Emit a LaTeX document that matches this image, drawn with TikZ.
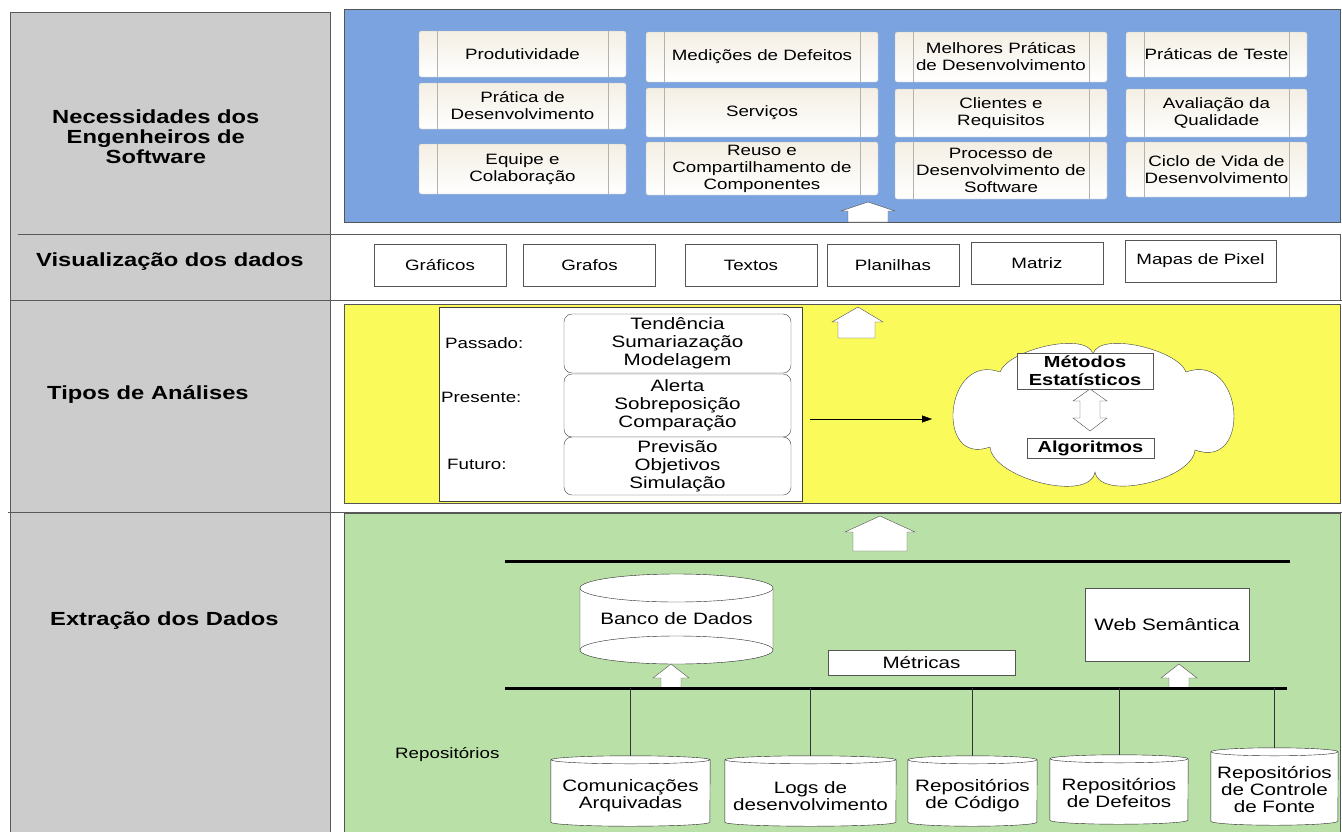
\documentclass[tikz,border=0pt]{standalone}
\usepackage{fontspec}
\setmainfont{Liberation Sans}[FakeStretch=1.25]
\usepackage{tikz}
\usetikzlibrary{positioning,calc,arrows.meta}
\tikzset{>={Triangle[length=10pt,width=7pt]}}

\definecolor{layergray}{HTML}{CCCCCC}
\definecolor{needblue}{HTML}{7BA3DF}
\definecolor{analysisyellow}{HTML}{FAFA5A}
\definecolor{extractgreen}{HTML}{B9E0A6}
\definecolor{boxcream}{HTML}{F4EFE4}
\definecolor{edgegray}{HTML}{555555}

\tikzset{
  layerlabel/.style={anchor=west,inner sep=0pt,align=center,font=\fontsize{19}{20}\selectfont\bfseries},
  panel/.style={draw=edgegray},
  needbox/.style={draw=gray!55,top color=boxcream,bottom color=white,rounded corners=2pt,
    inner sep=0pt,align=center,font=\fontsize{15}{17}\selectfont,
    path picture={
      \draw[gray!60] ([xshift=18pt]path picture bounding box.north west) -- ([xshift=18pt]path picture bounding box.south west);
      \draw[gray!60] ([xshift=-18pt]path picture bounding box.north east) -- ([xshift=-18pt]path picture bounding box.south east);
    }},
  viewbox/.style={draw=edgegray,fill=white,inner sep=0pt,minimum width=132pt,minimum height=42pt,font=\fontsize{15}{17}\selectfont},
  periodbox/.style={draw=black!75,fill=white,rounded corners=8pt,inner sep=0pt,minimum width=227pt,
    align=center,font=\fontsize{16.5}{18}\selectfont},
  periodlabel/.style={anchor=west,inner sep=0pt,font=\fontsize{15}{17}\selectfont},
  methodbox/.style={draw=edgegray,fill=white,inner sep=0pt,align=center,font=\fontsize{16}{18}\selectfont\bfseries},
  blockarrow/.style={draw=gray!60!black,fill=white},
  bus/.style={line width=3pt},
  drum/.style={draw=gray!30!black,fill=white},
  drumtext/.style={inner sep=0pt,align=center,font=\fontsize{16.5}{17}\selectfont},
  plainbox/.style={draw=edgegray,fill=white,inner sep=0pt,align=center,font=\fontsize{16.5}{18}\selectfont},
  tap/.style={draw=black!80}
}

\begin{document}
\begin{tikzpicture}[x=1pt,y=1pt]
\useasboundingbox (0,0) rectangle (1342,-831);
% One unit is one pixel, y going down

% Left column and row lines
\draw[draw=gray!70!black,fill=layergray] (10,-12) rectangle (330,-840);
\draw[gray!70!black] (18,-234) -- (1340,-234) -- (1340,-300);
\draw[gray!70!black] (10,-300) -- (1342,-300);
\draw[gray!70!black] (8,-512) -- (1342,-512);

\node[layerlabel] (needs) at (52,-137) {Necessidades dos\\Engenheiros de\\Software};
\node[layerlabel] (views) at (36,-262) {Visualização dos dados};
\node[layerlabel] (kinds) at (47,-394) {Tipos de Análises};
\node[layerlabel] (extract) at (50,-621) {Extração dos Dados};

% Coloured panels
\draw[panel,fill=needblue] (344,-9) rectangle (1340,-222);
\draw[panel,fill=analysisyellow] (344,-304) rectangle (1340,-503);
\draw[panel,fill=extractgreen] (344,-513) rectangle (1340,-840);

% Needs of the engineers
\node[needbox,minimum width=207pt,minimum height=46pt] (prod) at (522.5,-54) {Produtividade};
\node[needbox,minimum width=207pt,minimum height=46pt] (devpractice) at (522.5,-106) {Prática de\\Desenvolvimento};
\node[needbox,minimum width=207pt,minimum height=50pt] (team) at (522.5,-169) {Equipe e\\Colaboração};
\node[needbox,minimum width=232pt,minimum height=50pt] (defects) at (762,-57) {Medições de Defeitos};
\node[needbox,minimum width=232pt,minimum height=49pt] (services) at (762,-112.5) {Serviços};
\node[needbox,minimum width=232pt,minimum height=53pt] (reuse) at (762,-168.5) {Reuso e\\Compartilhamento de\\Componentes};
\node[needbox,minimum width=212pt,minimum height=50pt] (bestpractice) at (1001,-57) {Melhores Práticas\\de Desenvolvimento};
\node[needbox,minimum width=212pt,minimum height=48pt] (clients) at (1001,-113) {Clientes e\\Requisitos};
\node[needbox,minimum width=212pt,minimum height=57pt] (process) at (1001,-170.5) {Processo de\\Desenvolvimento de\\Software};
\node[needbox,minimum width=181pt,minimum height=45pt] (testing) at (1216.5,-54.5) {Práticas de Teste};
\node[needbox,minimum width=181pt,minimum height=48pt] (quality) at (1216.5,-113) {Avaliação da\\Qualidade};
\node[needbox,minimum width=181pt,minimum height=55pt] (lifecycle) at (1216.5,-169.5) {Ciclo de Vida de\\Desenvolvimento};

\draw[blockarrow] (868,-202) -- (895,-211) -- (888,-211) -- (888,-222) -- (848,-222) -- (848,-211) -- (841,-211) -- cycle;

% Visualization row
\node[viewbox] (graphics) at (440,-265) {Gráficos};
\node[viewbox] (graphs) at (589.5,-265) {Grafos};
\node[viewbox] (texts) at (751,-265) {Textos};
\node[viewbox] (sheets) at (893,-265) {Planilhas};
\node[viewbox] (matrix) at (1037,-263.5) {Matriz};
\node[viewbox,minimum width=151pt] (pixmaps) at (1200.5,-261) {Mapas de Pixel};

% Kinds of analysis
\node[draw=gray!50!black,fill=white,minimum width=363pt,minimum height=194pt] (analysis) at (620.5,-404) {};
\node[periodbox,minimum height=59pt] (past) at (677.5,-343.5) {Tendência\\Sumariazação\\Modelagem};
\node[periodbox,minimum height=63pt] (present) at (677.5,-405.5) {Alerta\\Sobreposição\\Comparação};
\node[periodbox,minimum height=58pt] (future) at (677.5,-466) {Previsão\\Objetivos\\Simulação};
\node[periodlabel] (pastlabel) at (445,-343) {Passado:};
\node[periodlabel] (presentlabel) at (441,-397) {Presente:};
\node[periodlabel] (futurelabel) at (447,-464) {Futuro:};

% Cloud of methods, lobe by lobe
\coordinate (dipTop) at (1093,-354);
\coordinate (dipRightUp) at (1186,-372);
\coordinate (dipRightDown) at (1195,-450);
\coordinate (dipBottom) at (1095,-472);
\coordinate (dipLeftDown) at (990,-447);
\coordinate (dipLeftUp) at (1000,-372);
\draw[draw=gray!50!black,fill=white] (dipTop)
  to[out=75,in=110,looseness=0.65] (dipRightUp)
  to[out=20,in=-20,looseness=2] (dipRightDown)
  to[out=-95,in=-80,looseness=0.75] (dipBottom)
  to[out=-100,in=-85,looseness=0.75] (dipLeftDown)
  to[out=200,in=160,looseness=2] (dipLeftUp)
  to[out=70,in=105,looseness=0.65] (dipTop);

\node[methodbox,minimum width=136pt,minimum height=36pt] (stats) at (1085,-371) {Métodos\\Estatísticos};
\node[methodbox,minimum width=127pt,minimum height=20pt] (algos) at (1090.5,-448) {Algoritmos};
\draw[blockarrow] (1090,-389) -- (1107,-401) -- (1100,-401) -- (1100,-418) -- (1107,-418) -- (1090,-431)
  -- (1073,-418) -- (1080,-418) -- (1080,-401) -- (1073,-401) -- cycle;

\coordinate (arrowStart) at (810,-419);
\coordinate (arrowEnd) at (932,-419);
\draw[->] (arrowStart) -- (arrowEnd);

\draw[blockarrow] (858,-307) -- (883,-322) -- (875,-322) -- (875,-338) -- (838,-338) -- (838,-322) -- (832,-322) -- cycle;

% Data extraction
\draw[blockarrow] (880,-516) -- (915,-532) -- (907,-532) -- (907,-551) -- (853,-551) -- (853,-532) -- (845,-532) -- cycle;

\coordinate (busHighL) at (505,-561);
\coordinate (busHighR) at (1290,-561);
\coordinate (busLowL) at (505,-688);
\coordinate (busLowR) at (1287,-688);
\draw[bus] (busHighL) -- (busHighR);

% Database drum
\draw[drum] (580,-588) -- (580,-650) arc[start angle=180,end angle=360,x radius=96.5pt,y radius=14pt] -- (773,-588);
\draw[drum] (676.5,-588) ellipse[x radius=96.5pt,y radius=14pt];
\draw[draw=gray!30!black] (580,-650) arc[start angle=180,end angle=0,x radius=96.5pt,y radius=14pt];
\node[drumtext] (bank) at (676.5,-619) {Banco de Dados};

\node[plainbox,minimum width=187pt,minimum height=25pt] (metrics) at (921.5,-662.5) {Métricas};
\node[plainbox,minimum width=164pt,minimum height=73pt] (semweb) at (1167,-624.5) {Web Semântica};

\draw[blockarrow] (671,-664) -- (689,-678) -- (681,-678) -- (681,-688) -- (661,-688) -- (661,-678) -- (653,-678) -- cycle;
\draw[blockarrow] (1179,-664) -- (1197,-678) -- (1189,-678) -- (1189,-688) -- (1169,-688) -- (1169,-678) -- (1161,-678) -- cycle;
\draw[bus] (busLowL) -- (busLowR);

% Repositories
\node[periodlabel] (repos) at (395,-755) {Repositórios};

\node[drumtext,minimum width=159pt,minimum height=62pt] (comm) at (630.5,-791) {};
\node[drumtext,minimum width=171pt,minimum height=62pt] (logs) at (810.5,-791) {};
\node[drumtext,minimum width=129pt,minimum height=62pt] (code) at (972.5,-791) {};
\node[drumtext,minimum width=138pt,minimum height=61pt] (bugs) at (1119,-789.5) {};
\node[drumtext,minimum width=127pt,minimum height=69pt] (vcs) at (1274.5,-786.5) {};

\draw[tap] (comm.north |- busLowL) -- (comm.north);
\draw[tap] (logs.north |- busLowL) -- (logs.north);
\draw[tap] (code.north |- busLowL) -- (code.north);
\draw[tap] (bugs.north |- busLowL) -- (bugs.north);
\draw[tap] (vcs.north |- busLowL) -- (vcs.north);

\draw[drum] (comm.north west) -- (comm.south west) arc[start angle=180,end angle=360,x radius=79.5pt,y radius=4pt] -- (comm.north east);
\draw[drum] (comm.north) ellipse[x radius=79.5pt,y radius=4pt];
\draw[drum] (logs.north west) -- (logs.south west) arc[start angle=180,end angle=360,x radius=85.5pt,y radius=4pt] -- (logs.north east);
\draw[drum] (logs.north) ellipse[x radius=85.5pt,y radius=4pt];
\draw[drum] (code.north west) -- (code.south west) arc[start angle=180,end angle=360,x radius=64.5pt,y radius=4pt] -- (code.north east);
\draw[drum] (code.north) ellipse[x radius=64.5pt,y radius=4pt];
\draw[drum] (bugs.north west) -- (bugs.south west) arc[start angle=180,end angle=360,x radius=69pt,y radius=4pt] -- (bugs.north east);
\draw[drum] (bugs.north) ellipse[x radius=69pt,y radius=4pt];
\draw[drum] (vcs.north west) -- (vcs.south west) arc[start angle=180,end angle=360,x radius=63.5pt,y radius=4pt] -- (vcs.north east);
\draw[drum] (vcs.north) ellipse[x radius=63.5pt,y radius=4pt];

\node[drumtext,yshift=-5pt] at (comm) {Comunicações\\Arquivadas};
\node[drumtext,yshift=-5pt] at (logs) {Logs de\\desenvolvimento};
\node[drumtext,yshift=-5pt] at (code) {Repositórios\\de Código};
\node[drumtext,yshift=-3pt] at (bugs) {Repositórios\\de Defeitos};
\node[drumtext,yshift=-3pt] at (vcs) {Repositórios\\de Controle\\de Fonte};

\end{tikzpicture}
\end{document}
